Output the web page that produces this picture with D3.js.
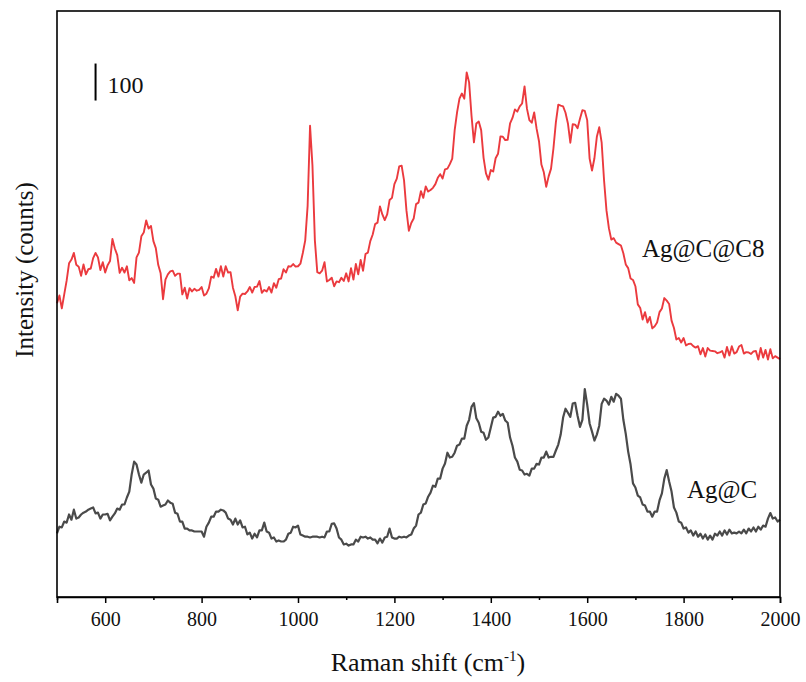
<!DOCTYPE html>
<html>
<head>
<meta charset="utf-8">
<script src="https://cdn.jsdelivr.net/npm/d3@7/dist/d3.min.js"></script>
<style>
  html, body { margin: 0; padding: 0; background: #fff; }
  svg { display: block; }
  text { font-family: "Liberation Serif", "Times New Roman", serif; fill: #111; }
</style>
</head>
<body>
<svg id="chart" width="806" height="682"></svg>
<script>
// Raman shift grid (cm-1)
const shift = [
  500,505,510,515,520,525,530,535,540,545,550,555,560,565,570,575,580,585,590,595,
  600,605,610,615,620,625,630,635,640,645,650,655,660,665,670,675,680,685,690,695,
  700,705,710,715,720,725,730,735,740,745,750,755,760,765,770,775,780,785,790,795,
  800,805,810,815,820,825,830,835,840,845,850,855,860,865,870,875,880,885,890,895,
  900,905,910,915,920,925,930,935,940,945,950,955,960,965,970,975,980,985,990,995,
  1000,1005,1010,1015,1020,1025,1030,1035,1040,1045,1050,1055,1060,1065,1070,1075,1080,1085,1090,1095,
  1100,1105,1110,1115,1120,1125,1130,1135,1140,1145,1150,1155,1160,1165,1170,1175,1180,1185,1190,1195,
  1200,1205,1210,1215,1220,1225,1230,1235,1240,1245,1250,1255,1260,1265,1270,1275,1280,1285,1290,1295,
  1300,1305,1310,1315,1320,1325,1330,1335,1340,1345,1350,1355,1360,1365,1370,1375,1380,1385,1390,1395,
  1400,1405,1410,1415,1420,1425,1430,1435,1440,1445,1450,1455,1460,1465,1470,1475,1480,1485,1490,1495,
  1500,1505,1510,1515,1520,1525,1530,1535,1540,1545,1550,1555,1560,1565,1570,1575,1580,1585,1590,1595,
  1600,1605,1610,1615,1620,1625,1630,1635,1640,1645,1650,1655,1660,1665,1670,1675,1680,1685,1690,1695,
  1700,1705,1710,1715,1720,1725,1730,1735,1740,1745,1750,1755,1760,1765,1770,1775,1780,1785,1790,1795,
  1800,1805,1810,1815,1820,1825,1830,1835,1840,1845,1850,1855,1860,1865,1870,1875,1880,1885,1890,1895,
  1900,1905,1910,1915,1920,1925,1930,1935,1940,1945,1950,1955,1960,1965,1970,1975,1980,1985,1990,1995,
  2000
];

// Ag@C@C8 intensity (counts, offset trace)
const agcc8 = [
  794,815,780,818,855,902,912,930,898,893,868,899,872,886,888,916,930,918,884,905,
  877,897,908,968,942,924,876,890,877,894,856,862,849,918,931,975,985,1018,996,1003,
  962,943,898,875,805,858,872,880,882,868,874,874,818,836,807,835,826,833,828,830,
  838,815,820,834,866,863,887,866,894,866,894,877,878,836,813,775,812,820,819,826,
  838,823,838,839,854,822,830,826,838,823,848,836,859,861,886,877,894,893,900,893,
  894,901,930,964,1058,1274,1166,964,878,875,882,905,853,857,863,840,853,851,863,854,
  875,853,889,858,900,872,911,882,927,931,962,980,1008,1012,1056,1034,1019,1034,1073,1079,
  1116,1131,1164,1166,1126,1045,990,1011,1023,1062,1066,1097,1079,1110,1096,1100,1106,1116,1133,1143,
  1131,1156,1158,1170,1185,1261,1310,1347,1361,1347,1418,1391,1301,1229,1280,1285,1262,1187,1145,1128,
  1154,1150,1186,1198,1245,1244,1235,1236,1280,1295,1318,1312,1326,1334,1380,1320,1289,1282,1310,1266,
  1232,1169,1148,1109,1137,1158,1213,1283,1331,1328,1326,1309,1280,1228,1278,1277,1267,1293,1316,1314,
  1289,1185,1153,1186,1244,1270,1228,1126,1045,997,966,970,958,954,950,929,899,889,861,857,
  840,791,781,750,770,742,757,726,732,742,770,780,808,801,792,747,727,696,700,688,
  700,680,684,685,678,674,678,656,673,650,673,666,665,664,659,661,665,647,676,653,
  678,658,662,677,681,658,662,661,657,664,665,642,673,647,668,642,670,645,651,647,
  643
];

// Ag@C intensity (counts)
const agc = [
  172,190,188,204,201,223,209,236,212,215,223,228,231,236,239,242,226,228,212,223,
  223,225,207,217,226,239,236,250,250,269,285,332,366,358,331,309,331,336,342,304,
  293,266,263,244,247,250,261,255,252,228,225,204,204,185,185,180,180,177,177,177,
  177,163,190,201,217,217,231,231,236,234,228,212,209,196,212,196,207,188,190,169,
  174,158,171,161,180,180,201,177,174,158,161,150,153,150,150,155,171,174,190,188,
  193,169,166,163,163,161,163,163,163,161,163,161,177,177,198,199,185,161,155,142,
  144,139,142,142,155,150,163,161,163,158,161,155,155,145,158,147,161,163,185,161,
  158,158,163,161,163,161,166,169,185,193,223,228,250,253,271,282,301,298,320,320,
  347,361,390,377,379,390,409,412,428,428,463,479,514,524,483,471,447,444,425,431,
  458,485,487,501,490,495,477,471,431,409,377,366,344,342,331,333,328,347,347,360,
  358,377,377,393,377,379,379,396,412,439,485,509,498,487,523,525,490,460,479,562,
  520,469,447,423,439,463,522,536,531,520,541,528,549,544,536,479,441,393,358,307,
  296,274,269,250,247,231,231,217,231,231,261,280,320,343,312,285,242,228,204,201,
  185,188,174,180,166,177,163,171,158,169,155,166,155,171,166,177,166,180,169,182,
  172,174,172,177,172,182,172,185,177,188,177,190,182,193,190,212,227,212,215,204,
  209
];

const seriesNames = ["Ag@C@C8", "Ag@C"];
const majorTicks = [600, 800, 1000, 1200, 1400, 1600, 1800, 2000];
const minorTicks = [500, 700, 900, 1100, 1300, 1500, 1700, 1900];
const scaleBar = 100;               // counts
const scaleBarAnchor = [580, 1342]; // (shift, counts) of bar bottom

const svg = d3.select("#chart");
const W = 806, H = 682;
const m = { left: 57, right: 780, top: 11, bottom: 597 };

svg.append("rect").attr("width", W).attr("height", H).attr("fill", "#fff");

const x = d3.scaleLinear().domain([500, 2000]).range([m.left, m.right]);
const y = d3.scaleLinear().domain([0, 1584]).range([m.bottom, m.top]);

const line = d3.line()
  .x((d, i) => x(shift[i]))
  .y(d => y(d));

// Traces
svg.append("path")
  .datum(agc)
  .attr("d", line)
  .attr("fill", "none")
  .attr("stroke", "#4a4a4a")
  .attr("stroke-width", 2.2)
  .attr("stroke-linejoin", "round");

svg.append("path")
  .datum(agcc8)
  .attr("d", line)
  .attr("fill", "none")
  .attr("stroke", "#eb3a3e")
  .attr("stroke-width", 1.9)
  .attr("stroke-linejoin", "round");

// Frame
svg.append("rect")
  .attr("x", m.left).attr("y", m.top)
  .attr("width", m.right - m.left).attr("height", m.bottom - m.top)
  .attr("fill", "none").attr("stroke", "#000").attr("stroke-width", 1.6);

// X axis (major)
const gx = svg.append("g").attr("transform", `translate(0,${m.bottom})`)
  .call(d3.axisBottom(x).tickValues(majorTicks).tickSize(6).tickPadding(9)
    .tickFormat(d3.format("d")));
gx.select(".domain").attr("stroke", "#000").attr("stroke-width", 1.6);
gx.selectAll(".tick line").attr("stroke", "#000").attr("stroke-width", 1.5);
gx.selectAll(".tick text")
  .style("font-family", '"Liberation Serif", "Times New Roman", serif')
  .style("font-size", "20px").attr("fill", "#111");

// X axis (minor)
const gxm = svg.append("g").attr("transform", `translate(0,${m.bottom})`)
  .call(d3.axisBottom(x).tickValues(minorTicks).tickSize(3).tickFormat(""));
gxm.select(".domain").remove();
gxm.selectAll(".tick line").attr("stroke", "#000").attr("stroke-width", 1.5);

// Axis titles
const xt = svg.append("text")
  .attr("x", 428).attr("y", 671)
  .attr("text-anchor", "middle")
  .style("font-size", "26px");
xt.append("tspan").text("Raman shift (cm");
xt.append("tspan").attr("dy", -10).style("font-size", "15px").text("-1");
xt.append("tspan").attr("dy", 10).text(")");

svg.append("text")
  .attr("transform", "translate(33,270) rotate(-90)")
  .attr("text-anchor", "middle")
  .style("font-size", "25px")
  .text("Intensity (counts)");

// Scale bar
svg.append("line")
  .attr("x1", x(scaleBarAnchor[0])).attr("x2", x(scaleBarAnchor[0]))
  .attr("y1", y(scaleBarAnchor[1])).attr("y2", y(scaleBarAnchor[1] + scaleBar))
  .attr("stroke", "#000").attr("stroke-width", 2);
svg.append("text")
  .attr("x", x(scaleBarAnchor[0]) + 12).attr("y", 93)
  .style("font-size", "24px")
  .text(String(scaleBar));

// Series labels
svg.append("text").attr("x", 642).attr("y", 257).style("font-size", "25px").text(seriesNames[0]);
svg.append("text").attr("x", 687).attr("y", 498).style("font-size", "25px").text(seriesNames[1]);
</script>
</body>
</html>
